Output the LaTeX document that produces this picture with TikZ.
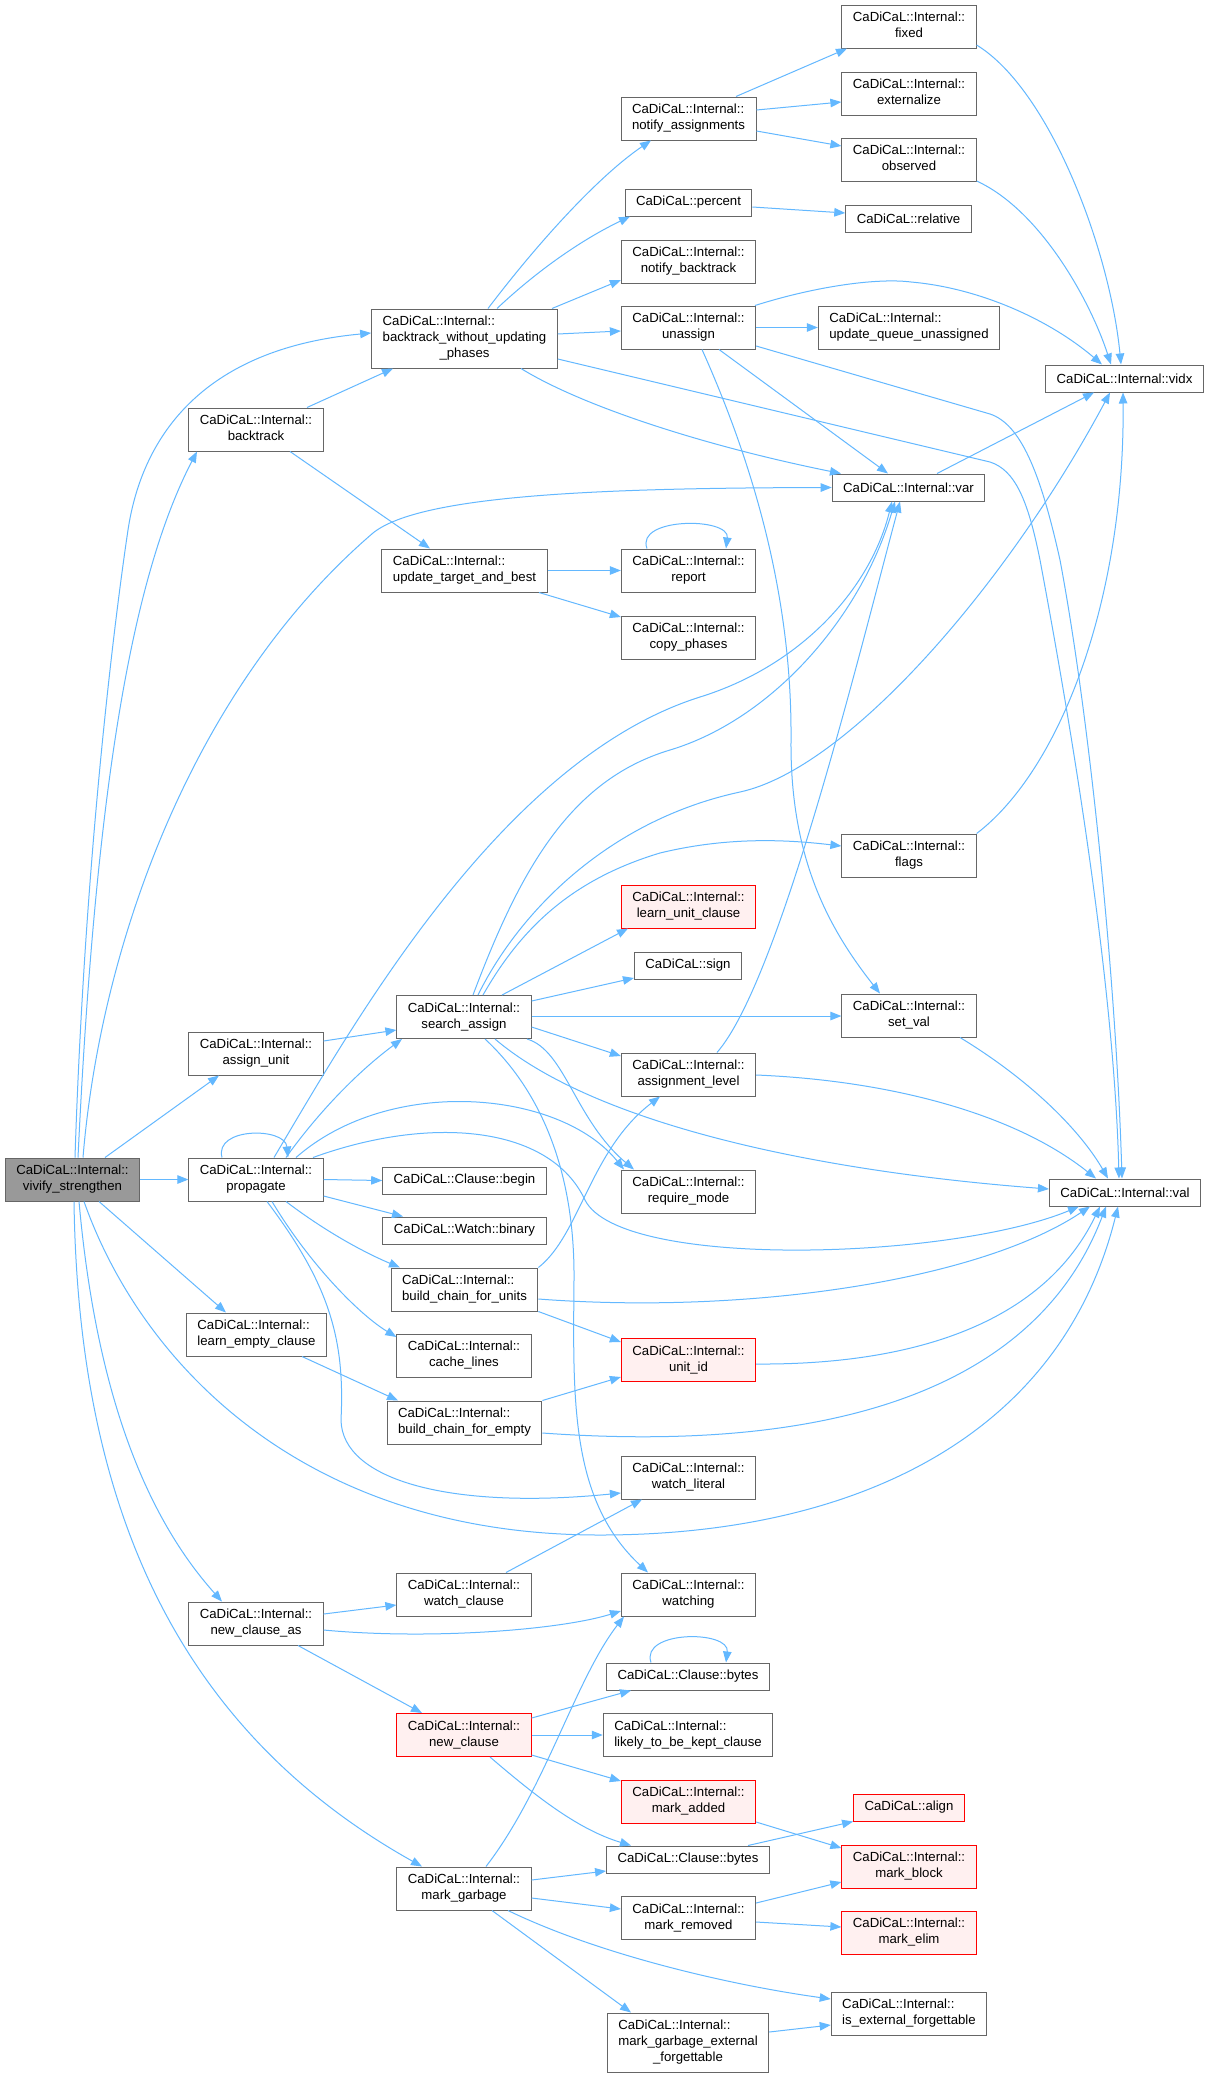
\documentclass[tikz,border=0pt]{standalone}
\usepackage{fontspec}
\setmainfont{Liberation Sans}
\usetikzlibrary{arrows.meta}
\definecolor{edgec}{HTML}{63B8FF}
\definecolor{boxc}{HTML}{666666}
\definecolor{redb}{HTML}{FF0000}
\definecolor{redf}{HTML}{FFF0F0}
\definecolor{rootf}{HTML}{999999}
\newcommand{\fsz}{\fontsize{13.2}{16}\selectfont}
\newcommand{\twol}[2]{\begin{tabular}{@{}l@{}}#1\\\multicolumn{1}{@{}c@{}}{#2}\end{tabular}}
\newcommand{\cdt}[1]{\twol{CaDiCaL::Internal::}{#1}}
\newcommand{\threel}[3]{\begin{tabular}{@{}l@{}}#1\\#2\\\multicolumn{1}{@{}c@{}}{#3}\end{tabular}}
\begin{document}
\begin{tikzpicture}[x=1pt,y=-1pt,
  box/.style={draw=boxc, line width=1pt, fill=white, inner xsep=11pt, inner ysep=0pt, font=\fsz, minimum height=27pt},
  b2/.style={box, minimum height=43pt},
  b3/.style={box, minimum height=59pt},
  redbox/.style={draw=redb, fill=redf},
  root/.style={fill=rootf},
  edge/.style={draw=edgec, line width=1pt, -{Triangle[length=11pt,width=8.5pt]}}]
\fill[white] (0,0) rectangle (1207,2080);
\useasboundingbox (0,0) rectangle (1207,2080);
% nodes
\node[b2,root] (V) at (72.5,1179.5) {\cdt{vivify\_strengthen}};
\node[b2] (B) at (256,429.5) {\cdt{backtrack}};
\node[b3] (BW) at (464.5,338.5) {\threel{CaDiCaL::Internal::}{backtrack\_without\_updating}{\_phases}};
\node[b2] (NA) at (688.5,118.5) {\cdt{notify\_assignments}};
\node[b2] (FX) at (909,26.5) {\cdt{fixed}};
\node[b2] (EX) at (909,93.5) {\cdt{externalize}};
\node[b2] (OB) at (909,159.5) {\cdt{observed}};
\node[box] (PC) at (688.5,202.5) {CaDiCaL::percent};
\node[box] (RL) at (908.5,218.5) {CaDiCaL::relative};
\node[b2] (NB) at (688.5,261.5) {\cdt{notify\_backtrack}};
\node[b2] (UA) at (688.5,327.5) {\cdt{unassign}};
\node[b2] (UQ) at (909,327.5) {\cdt{update\_queue\_unassigned}};
\node[box] (VX) at (1124.5,378.5) {CaDiCaL::Internal::vidx};
\node[box] (VR) at (908.5,487.5) {CaDiCaL::Internal::var};
\node[b2] (UT) at (464.5,570.5) {\cdt{update\_target\_and\_best}};
\node[b2] (RP) at (688.5,570.5) {\cdt{report}};
\node[b2] (CP) at (688.5,637.5) {\cdt{copy\_phases}};
\node[b2] (FL) at (909,855.5) {\cdt{flags}};
\node[b2,redbox] (LU) at (688.5,906.5) {\cdt{learn\_unit\_clause}};
\node[box] (SG) at (688,965.5) {CaDiCaL::sign};
\node[b2] (SV) at (909,1015.5) {\cdt{set\_val}};
\node[b2] (SA) at (464,1017) {\cdt{search\_assign}};
\node[b2] (AU) at (256,1053.5) {\cdt{assign\_unit}};
\node[b2] (AL) at (688.5,1074.5) {\cdt{assignment\_level}};
\node[b2] (PR) at (256,1179.5) {\cdt{propagate}};
\node[box] (CB) at (464.5,1180.5) {CaDiCaL::Clause::begin};
\node[box] (WB) at (464.5,1230.5) {CaDiCaL::Watch::binary};
\node[b2] (RM) at (688.5,1191.5) {\cdt{require\_mode}};
\node[box] (VL) at (1125,1192.5) {CaDiCaL::Internal::val};
\node[b2] (BU) at (464.5,1289.5) {\cdt{build\_chain\_for\_units}};
\node[b2] (LE) at (256.5,1334.5) {\cdt{learn\_empty\_clause}};
\node[b2] (CL) at (464,1355.5) {\cdt{cache\_lines}};
\node[b2,redbox] (UI) at (688.5,1360) {\cdt{unit\_id}};
\node[b2] (BE) at (464.5,1422.5) {\cdt{build\_chain\_for\_empty}};
\node[b2] (WL) at (688.5,1477.5) {\cdt{watch\_literal}};
\node[b2] (WC) at (464,1594.5) {\cdt{watch\_clause}};
\node[b2] (WT) at (688.5,1594.5) {\cdt{watching}};
\node[b2] (NCA) at (256,1623.5) {\cdt{new\_clause\_as}};
\node[box] (BY1) at (688,1676.5) {CaDiCaL::Clause::bytes};
\node[b2,redbox] (NC) at (464,1735) {\cdt{new\_clause}};
\node[b2] (LK) at (688,1735) {\cdt{likely\_to\_be\_kept\_clause}};
\node[b2,redbox] (MA) at (688.5,1801.5) {\cdt{mark\_added}};
\node[box,redbox] (AG) at (909,1807.5) {CaDiCaL::align};
\node[box] (BY2) at (688,1859.5) {CaDiCaL::Clause::bytes};
\node[b2,redbox] (MB) at (909,1866.5) {\cdt{mark\_block}};
\node[b2] (MG) at (464,1888.5) {\cdt{mark\_garbage}};
\node[b2] (MR) at (688.5,1918) {\cdt{mark\_removed}};
\node[b2,redbox] (ME) at (909,1932.5) {\cdt{mark\_elim}};
\node[b2] (IE) at (909,2013.5) {\cdt{is\_external\_forgettable}};
\node[b3] (MX) at (688,2042.5) {\threel{CaDiCaL::Internal::}{mark\_garbage\_external}{\_forgettable}};
% edges from vivify_strengthen
\draw[edge] (V.north -| 75,0) .. controls (85,850) and (116,610) .. (128,530) .. controls (140,450) and (190,350) .. (BW.west |- 0,333);
\draw[edge] (V.north -| 78,0) .. controls (95,800) and (130,580) .. (B.south -| 197,0);
\draw[edge] (V.north -| 83,0) .. controls (100,950) and (190,690) .. (373,533) .. controls (420,495) and (600,488) .. (VR.west);
\draw[edge] (V.north -| 105,0) -- (AU.south -| 219,0);
\draw[edge] (V.east) -- (PR.west);
\draw[edge] (V.south -| 99,0) -- (LE.north -| 226,0);
\draw[edge] (V.south -| 84,0) .. controls (140,1360) and (300,1535) .. (600,1535) .. controls (850,1535) and (1060,1440) .. (VL.south -| 1118,0);
\draw[edge] (V.south -| 79,0) .. controls (95,1380) and (140,1510) .. (NCA.north -| 222,0);
\draw[edge] (V.south -| 74,0) .. controls (78,1480) and (160,1720) .. (MG.north -| 422,0);
% backtrack
\draw[edge] (B.north -| 307,0) -- (BW.south -| 393,0);
\draw[edge] (B.south -| 290,0) -- (UT.north -| 430,0);
% backtrack_without_updating_phases
\draw[edge] (BW.north -| 488,0) .. controls (540,240) and (600,175) .. (NA.south -| 651,0);
\draw[edge] (BW.north -| 497,0) .. controls (540,268) and (585,238) .. (PC.south -| 630,0);
\draw[edge] (BW.north -| 552,0) -- (NB.west |- 0,280);
\draw[edge] (BW.east |- 0,334) -- (UA.west |- 0,331);
\draw[edge] (BW.south -| 521,0) .. controls (580,405) and (700,445) .. (VR.north -| 841,0);
\draw[edge] (BW.east |- 0,359) -- (990,462) .. controls (1015,470) and (1028,500) .. (1040,560) .. controls (1070,720) and (1114,980) .. (VL.north -| 1119,0);
% notify_assignments, percent
\draw[edge] (NA.north -| 736,0) -- (FX.south -| 847,0);
\draw[edge] (NA.east |- 0,110) -- (EX.west |- 0,102);
\draw[edge] (NA.east |- 0,131) -- (OB.west |- 0,146);
\draw[edge] (PC.east |- 0,207) -- (RL.west |- 0,213);
\draw[edge] (FX.east |- 0,45) .. controls (1050,90) and (1110,250) .. (VX.north -| 1121,0);
\draw[edge] (OB.east |- 0,181) .. controls (1040,210) and (1090,300) .. (VX.north -| 1111,0);
% unassign
\draw[edge] (UA.north -| 755,0) .. controls (820,285) and (880,278) .. (911,282) .. controls (980,288) and (1050,320) .. (VX.north -| 1102,0);
\draw[edge] (UA.east) -- (UQ.west);
\draw[edge] (UA.south -| 719,0) -- (VR.north -| 888,0);
\draw[edge] (UA.south -| 702,0) .. controls (765,490) and (792,620) .. (791,740) .. controls (790,860) and (830,930) .. (SV.north -| 880,0);
\draw[edge] (UA.east |- 0,346) -- (990,414) .. controls (1020,424) and (1040,470) .. (1060,560) .. controls (1090,720) and (1116,980) .. (VL.north -| 1122,0);
\draw[edge] (VR.north -| 937,0) -- (VX.south -| 1094,0);
% update_target_and_best, report
\draw[edge] (UT.east) -- (RP.west);
\draw[edge] (UT.south -| 539,0) -- (CP.west |- 0,617);
\draw[edge] (RP.north -| 647,0) .. controls (635,517) and (730,517) .. (RP.north -| 726,0);
% search_assign
\draw[edge] (SA.north -| 473,0) .. controls (520,870) and (570,780) .. (670,750) .. controls (770,720) and (860,620) .. (VR.south -| 895,0);
\draw[edge] (SA.north -| 478,0) .. controls (520,910) and (610,820) .. (740,792) .. controls (850,768) and (1010,580) .. (VX.south -| 1110,0);
\draw[edge] (SA.north -| 483,0) .. controls (520,930) and (570,880) .. (660,853) .. controls (730,836) and (790,840) .. (FL.west |- 0,846);
\draw[edge] (SA.north -| 502,0) -- (LU.south -| 628,0);
\draw[edge] (SA.east |- 0,1001) -- (SG.west |- 0,978);
\draw[edge] (SA.east |- 0,1016) -- (SV.west |- 0,1016);
\draw[edge] (SA.east |- 0,1027) -- (AL.west |- 0,1056);
\draw[edge] (SA.south -| 527,0) .. controls (565,1050) and (575,1120) .. (RM.north -| 634,0);
\draw[edge] (SA.south -| 495,0) .. controls (590,1120) and (800,1170) .. (VL.west |- 0,1189);
\draw[edge] (SA.south -| 485,0) .. controls (540,1090) and (575,1170) .. (574,1280) .. controls (573,1400) and (570,1500) .. (WT.north -| 648,0);
% propagate
\draw[edge] (PR.north -| 222,0) .. controls (214,1127) and (285,1127) .. (PR.north -| 288,0);
\draw[edge] (PR.north -| 274,0) .. controls (350,1030) and (500,760) .. (700,697) .. controls (800,666) and (870,590) .. (VR.south -| 892,0);
\draw[edge] (PR.north -| 286,0) .. controls (320,1110) and (360,1070) .. (SA.south -| 402,0);
\draw[edge] (PR.north -| 296,0) .. controls (390,1075) and (560,1090) .. (RM.north -| 624,0);
\draw[edge] (PR.north -| 313,0) .. controls (430,1115) and (550,1125) .. (585,1200) .. controls (620,1270) and (950,1260) .. (VL.south -| 1079,0);
\draw[edge] (PR.east) -- (CB.west);
\draw[edge] (PR.east |- 0,1196) -- (WB.north -| 403,0);
\draw[edge] (PR.south -| 286,0) .. controls (330,1235) and (370,1255) .. (BU.north -| 400,0);
\draw[edge] (PR.south -| 272,0) .. controls (310,1265) and (360,1315) .. (CL.west |- 0,1337);
\draw[edge] (PR.south -| 267,0) .. controls (330,1285) and (345,1340) .. (341,1420) .. controls (342,1480) and (450,1510) .. (WL.west |- 0,1493);
% assign_unit
\draw[edge] (AU.east |- 0,1041) -- (SA.west |- 0,1030);
% build_chain_for_units
\draw[edge] (BU.north east) .. controls (580,1235) and (590,1150) .. (AL.south -| 660,0);
\draw[edge] (BU.east |- 0,1299) .. controls (750,1315) and (980,1280) .. (VL.south -| 1090,0);
\draw[edge] (BU.south east) -- (UI.west |- 0,1342);
% learn_empty_clause, build_chain_for_empty, unit_id
\draw[edge] (LE.south -| 302,0) -- (BE.north -| 398,0);
\draw[edge] (BE.north east) -- (UI.west |- 0,1377);
\draw[edge] (BE.east |- 0,1433) .. controls (850,1455) and (1040,1380) .. (VL.south -| 1106,0);
\draw[edge] (UI.east |- 0,1364) .. controls (900,1365) and (1040,1330) .. (VL.south -| 1100,0);
% assignment_level, set_val, flags
\draw[edge] (AL.north -| 717,0) .. controls (780,980) and (860,650) .. (VR.south -| 900,0);
\draw[edge] (AL.east |- 0,1075) .. controls (880,1080) and (1010,1110) .. (VL.north -| 1096,0);
\draw[edge] (SV.south -| 960,0) .. controls (1030,1080) and (1080,1130) .. (VL.north -| 1108,0);
\draw[edge] (FL.north east) .. controls (1060,770) and (1125,600) .. (VX.south -| 1123,0);
% watch_clause, new_clause_as
\draw[edge] (WC.north -| 506,0) -- (WL.south -| 642,0);
\draw[edge] (NCA.east |- 0,1614) -- (WC.west |- 0,1605);
\draw[edge] (NCA.east |- 0,1630) .. controls (430,1640) and (560,1630) .. (WT.west |- 0,1611);
\draw[edge] (NCA.south -| 298,0) -- (NC.north -| 422,0);
% new_clause
\draw[edge] (NC.east |- 0,1718) -- (BY1.south -| 631,0);
\draw[edge] (NC.east) -- (LK.west);
\draw[edge] (NC.east |- 0,1755) -- (MA.west |- 0,1781);
\draw[edge] (NC.south -| 490,0) .. controls (540,1800) and (580,1830) .. (BY2.north -| 631,0);
\draw[edge] (BY1.north -| 651,0) .. controls (640,1630) and (730,1630) .. (BY1.north -| 726,0);
\draw[edge] (MA.east |- 0,1822) -- (MB.west |- 0,1848);
\draw[edge] (BY2.north -| 748,0) -- (AG.south west);
\draw[edge] (MR.east |- 0,1903) -- (MB.west |- 0,1882);
\draw[edge] (MR.east |- 0,1922) -- (ME.west |- 0,1927);
% mark_garbage
\draw[edge] (MG.north -| 486,0) .. controls (545,1790) and (575,1680) .. (WT.south -| 624,0);
\draw[edge] (MG.east |- 0,1880) -- (BY2.west |- 0,1871);
\draw[edge] (MG.east |- 0,1898) -- (MR.west |- 0,1909);
\draw[edge] (MG.south -| 508,0) .. controls (600,1955) and (730,1985) .. (IE.west |- 0,1999);
\draw[edge] (MG.south -| 492,0) -- (MX.north -| 631,0);
\draw[edge] (MX.east |- 0,2032) -- (IE.west |- 0,2025);
\end{tikzpicture}
\end{document}
